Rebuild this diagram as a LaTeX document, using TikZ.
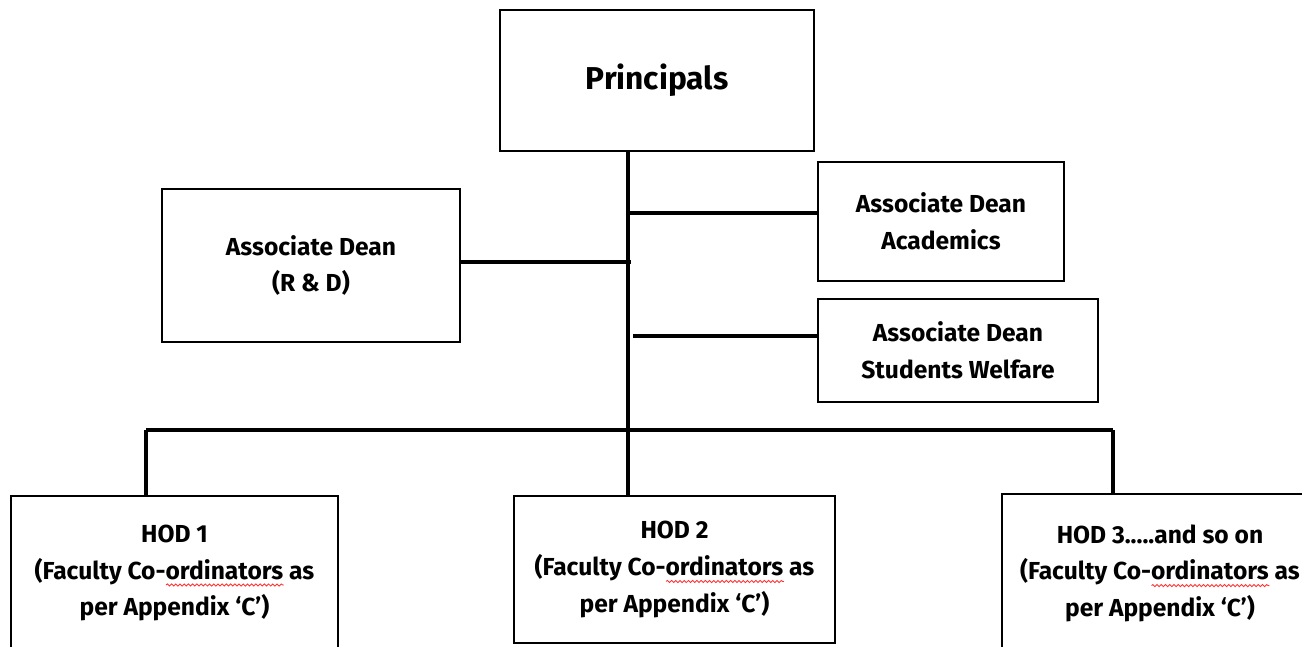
\documentclass[tikz,border=0pt]{standalone}
\usepackage{fontspec}
\setmainfont{Fira Sans}
\usetikzlibrary{decorations.pathmorphing}
\newsavebox\wavybox
\newcommand\wavy[1]{\sbox\wavybox{#1}\leavevmode\rlap{\tikz[baseline=0pt]
  \draw[red!80, line width=0.5pt, decorate, decoration={snake, amplitude=0.6pt, segment length=2.4pt}]
  (0pt,-3.4pt) -- ++(\wd\wavybox,0pt);}\usebox\wavybox}
\tikzset{
  box/.style={draw, line width=0.9pt, align=center, inner sep=0pt,
    font=\fontsize{14}{20.8}\selectfont\bfseries},
  link/.style={line width=2pt},
}

\begin{document}
\begin{tikzpicture}[x=0.02cm, y=-0.02cm]
\useasboundingbox (0,0) rectangle (1302,646);

% head of the chart
\node[box, minimum width=6.28cm, minimum height=2.82cm,
  font=\fontsize{18}{24}\selectfont\bfseries] (princ) at (657,80.5) {Principals};

% associate deans
\node[box, minimum width=5.96cm, minimum height=3.06cm] (rnd) at (311,265.5) {Associate Dean\\(R \& D)};
\node[box, minimum width=4.92cm, minimum height=2.38cm] (acad) at (941,221.5) {Associate Dean\\Academics};
\node[box, minimum width=5.6cm, minimum height=2.06cm] (welf) at (958,350.5) {Associate Dean\\Students Welfare};

% heads of department
\foreach \nm/\cx/\cy/\w/\h/\head in {hodA/174.5/573/6.54/3.08/{HOD 1},
    hodB/674.5/569.5/6.42/2.94/{HOD 2}, hodC/1160/573/6.32/3.16/{HOD 3.....and so on}}
{
  \node[box, minimum width=\w cm, minimum height=\h cm] (\nm) at (\cx,\cy)
    {\head\\(Faculty Co-\wavy{ordinators} as\\per Appendix `C')};
}

% joints on the trunk
\coordinate (jAcad) at (628,213);
\coordinate (jRnd) at (631,262);
\coordinate (jWelf) at (633,336);
\coordinate (busL) at (146,430);
\coordinate (busR) at (1113,430);

\draw[link] (princ.south -| jAcad) -- (hodB.north -| jAcad);
\draw[link] (jAcad) -- (jAcad -| acad.west);
\draw[link] (rnd.east |- jRnd) -- (jRnd);
\draw[link] (jWelf) -- (jWelf -| welf.west);
\draw[link] (busL) -- (busR);
\draw[link] (busL) -- (busL |- hodA.north);
\draw[link] (busR) -- (busR |- hodC.north);

\end{tikzpicture}
\end{document}
